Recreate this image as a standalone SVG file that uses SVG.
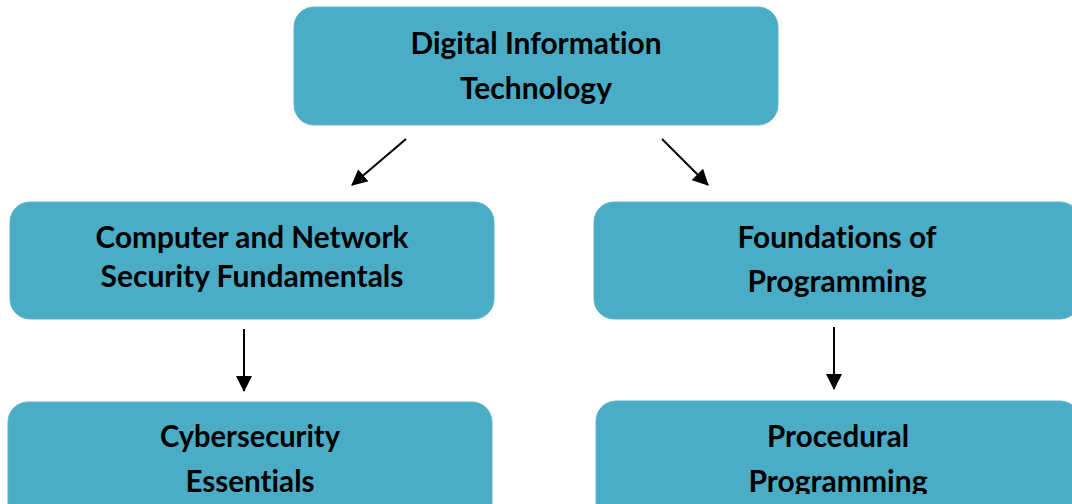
<svg xmlns="http://www.w3.org/2000/svg" width="1072" height="504" viewBox="0 0 1072 504">
<style>
.box{fill:#4bacc6;stroke:#5fb6cd;stroke-width:1}
.t{font-family:Lato,"Liberation Sans",sans-serif;font-weight:bold;font-size:31px;fill:#000;text-anchor:middle;font-variant-ligatures:none;font-feature-settings:"liga" 0,"clig" 0}
.c{stroke:#000;stroke-width:2;fill:none}
</style>
<defs>
<marker id="ah" markerUnits="userSpaceOnUse" markerWidth="16" markerHeight="16" refX="15" refY="8" orient="auto">
<path d="M0,0 L16,8 L0,16 z" fill="#000"/>
</marker>
<clipPath id="clipB"><rect x="0" y="0" width="1072" height="494"/></clipPath>
</defs>
<rect width="1072" height="504" fill="#fff"/>
<g id="n-dit">
<rect class="box" x="294" y="7" width="484" height="118" rx="20"/>
<text class="t" x="536" y="54" textLength="251" lengthAdjust="spacingAndGlyphs">Digital Information</text>
<text class="t" x="536" y="99" textLength="152" lengthAdjust="spacingAndGlyphs">Technology</text>
</g>
<g id="n-cnsf">
<rect class="box" x="10" y="202" width="484" height="117" rx="20"/>
<text class="t" x="252" y="248" textLength="313" lengthAdjust="spacingAndGlyphs">Computer and Network</text>
<text class="t" x="252" y="287" textLength="303" lengthAdjust="spacingAndGlyphs">Security Fundamentals</text>
</g>
<g id="n-fop">
<rect class="box" x="594" y="202" width="486" height="117" rx="20"/>
<text class="t" x="837" y="248" textLength="199" lengthAdjust="spacingAndGlyphs">Foundations of</text>
<text class="t" x="837" y="292" textLength="179" lengthAdjust="spacingAndGlyphs">Programming</text>
</g>
<g id="n-ce">
<rect class="box" x="8" y="402" width="484" height="130" rx="20"/>
<text class="t" x="250" y="447" textLength="180" lengthAdjust="spacingAndGlyphs">Cybersecurity</text>
<text class="t" x="250" y="492" textLength="129" lengthAdjust="spacingAndGlyphs">Essentials</text>
</g>
<g id="n-pp">
<rect class="box" x="596" y="401" width="484" height="130" rx="20"/>
<text class="t" x="838" y="447" textLength="142" lengthAdjust="spacingAndGlyphs">Procedural</text>
<text class="t" x="838" y="492" textLength="179" lengthAdjust="spacingAndGlyphs" clip-path="url(#clipB)">Programming</text>
</g>
<g id="connectors">
<line class="c" x1="406" y1="139" x2="352" y2="185" marker-end="url(#ah)"/>
<line class="c" x1="662" y1="139" x2="708" y2="185" marker-end="url(#ah)"/>
<line class="c" x1="244" y1="329" x2="244" y2="391" marker-end="url(#ah)"/>
<line class="c" x1="834" y1="327" x2="834" y2="389" marker-end="url(#ah)"/>
</g>
</svg>
